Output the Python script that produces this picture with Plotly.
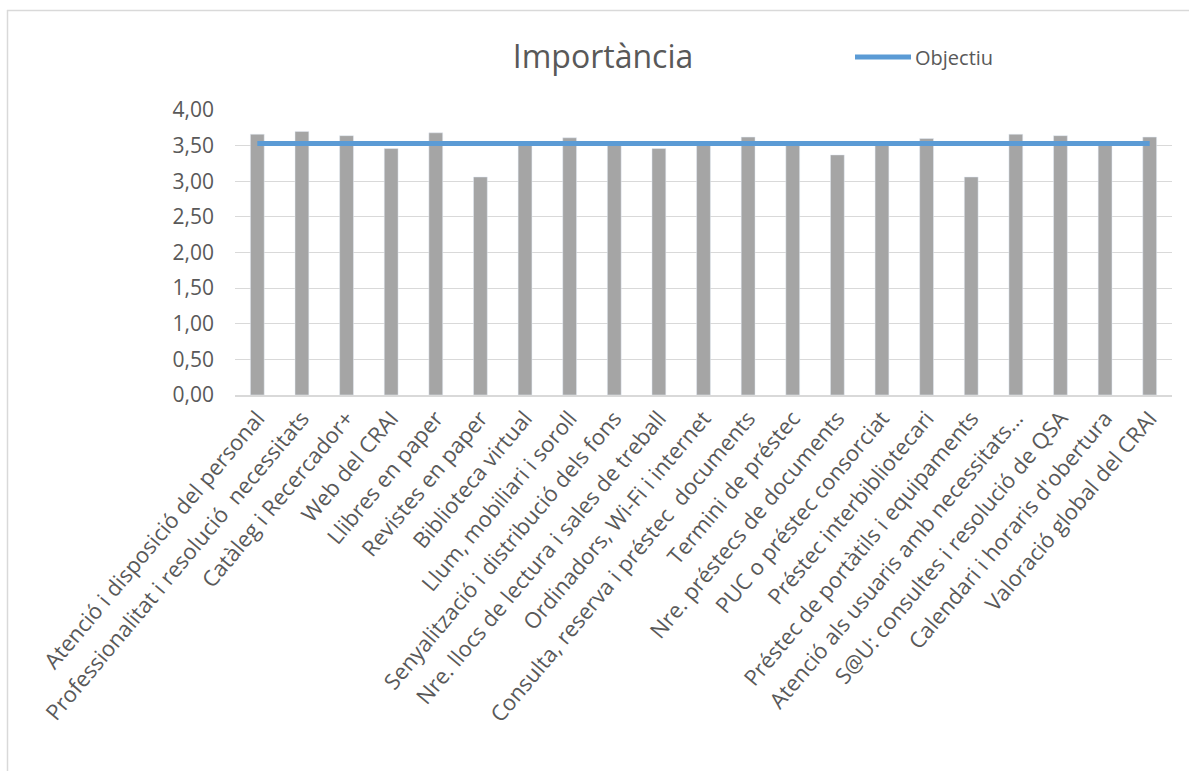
import plotly.graph_objects as go

categories = [
    "Atenció i disposició del personal",
    "Professionalitat i resolució  necessitats",
    "Catàleg i Recercador+",
    "Web del CRAI",
    "Llibres en paper",
    "Revistes en paper",
    "Biblioteca virtual",
    "Llum, mobiliari i soroll",
    "Senyalització i distribució dels fons",
    "Nre. llocs de lectura i sales de treball",
    "Ordinadors, Wi-Fi i internet",
    "Consulta, reserva i préstec  documents",
    "Termini de préstec",
    "Nre. préstecs de documents",
    "PUC o préstec consorciat",
    "Préstec interbibliotecari",
    "Préstec de portàtils i equipaments",
    "Atenció als usuaris amb necessitats...",
    "S@U: consultes i resolució de QSA",
    "Calendari i horaris d'obertura",
    "Valoració global del CRAI",
]
importancia = [3.66, 3.70, 3.64, 3.46, 3.68, 3.06, 3.53, 3.61, 3.52, 3.46, 3.54,
               3.62, 3.53, 3.37, 3.52, 3.60, 3.06, 3.66, 3.64, 3.53, 3.62]
objectiu = [3.53] * len(categories)

fig = go.Figure()
fig.add_trace(go.Bar(x=categories, y=importancia, marker_color="#a5a5a5",
                     showlegend=False, name="Importància"))
fig.add_trace(go.Scatter(x=categories, y=objectiu, mode="lines", name="Objectiu",
                         showlegend=False,
                         line=dict(color="#5b9bd5", width=5)))

L, R, T, B = 235, 17, 110, 376
pw, ph = 1189 - L - R, 771 - T - B


def px(x):
    return (x - L) / pw


def py(y):
    return 1 - (y - T) / ph


fig.update_layout(
    width=1189, height=771,
    margin=dict(l=L, r=R, t=T, b=B, pad=0, autoexpand=False),
    paper_bgcolor="white", plot_bgcolor="white",
    separators=",.",
    font=dict(family="Open Sans", color="#595959", size=20),
    bargap=0.69,
    showlegend=False,
    title=dict(text="Importància", x=603 / 1189, xanchor="center",
               y=1 - 57 / 771, yanchor="middle",
               font=dict(size=32, color="#595959", family="Open Sans")),
    shapes=[
        dict(type="line", xref="paper", yref="paper",
             x0=px(7), x1=px(1200), y0=py(10.5), y1=py(10.5),
             line=dict(color="#d9d9d9", width=1.5)),
        dict(type="line", xref="paper", yref="paper",
             x0=px(7.5), x1=px(7.5), y0=py(10), y1=py(790),
             line=dict(color="#d9d9d9", width=1.5)),
        # legend key
        dict(type="line", xref="paper", yref="paper",
             x0=px(855), x1=px(911), y0=py(57), y1=py(57),
             line=dict(color="#5b9bd5", width=5)),
    ],
    annotations=[
        dict(text="Objectiu", xref="paper", yref="paper", x=px(913), y=py(57),
             xanchor="left", yanchor="middle", showarrow=False,
             font=dict(size=20, color="#595959", family="Open Sans")),
    ],
)
fig.update_xaxes(tickangle=-50, showline=True, linecolor="#d9d9d9", linewidth=1.5,
                 showgrid=False, ticks="", automargin=False,
                 tickfont=dict(size=22, color="#595959"))
fig.update_yaxes(range=[0, 4], dtick=0.5, tickformat=".2f", showgrid=True,
                 gridcolor="#d9d9d9", gridwidth=1.3, zeroline=False, showline=False,
                 ticks="", automargin=False, ticklabelstandoff=20,
                 tickfont=dict(size=21, color="#595959"))

fig.write_html("out.html")
